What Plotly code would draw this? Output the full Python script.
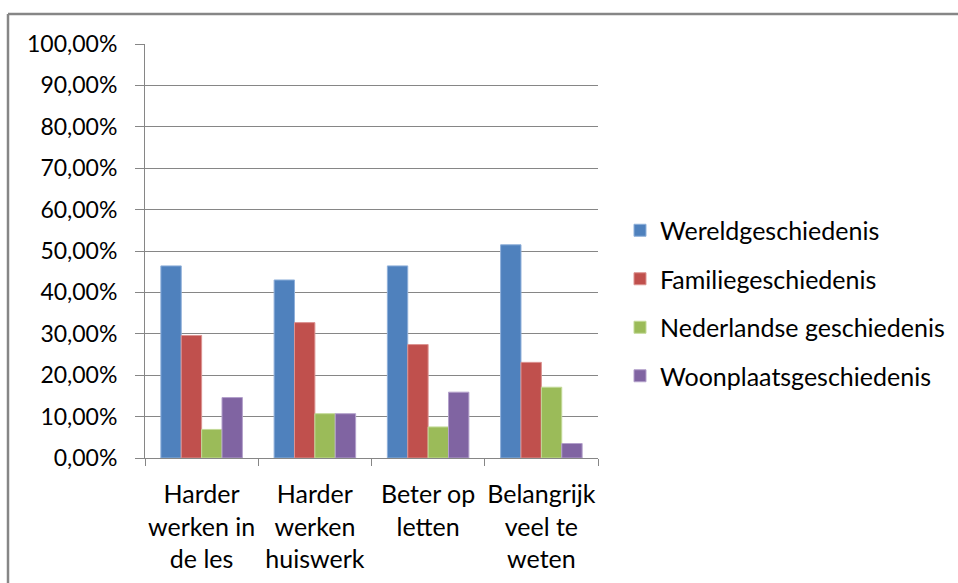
import plotly.graph_objects as go

categories = ["Harder<br>werken in<br>de les", "Harder<br>werken<br>huiswerk", "Beter op<br>letten", "Belangrijk<br>veel te<br>weten"]
series_names = ["Wereldgeschiedenis", "Familiegeschiedenis", "Nederlandse geschiedenis", "Woonplaatsgeschiedenis"]
wereld = [0.464, 0.430, 0.464, 0.515]
familie = [0.296, 0.327, 0.274, 0.231]
nederland = [0.069, 0.107, 0.075, 0.171]
woonplaats = [0.146, 0.107, 0.159, 0.035]
y_ticks = [0, 0.1, 0.2, 0.3, 0.4, 0.5, 0.6, 0.7, 0.8, 0.9, 1.0]

colors = ["#4F81BD", "#C0504D", "#9BBB59", "#8064A2"]
outline = ["#8FB0DA", "#DC9391", "#C3DA98", "#B3A0CB"]
values = [wereld, familie, nederland, woonplaats]

fig = go.Figure()
for i, (name, vals) in enumerate(zip(series_names, values)):
    fig.add_trace(go.Bar(
        x=categories, y=vals, name=name,
        marker=dict(color=colors[i], line=dict(color=outline[i], width=1)),
        legendgroup=f"g{i}",
    ))

FONT = "Lato"
FS = 23
W, H = 958, 583
L, R, T, B = 145, 360, 44, 125
pw, ph = W - L - R, H - T - B

def px_x(x):
    return (x - L) / pw

def px_y(y):
    return (H - B - y) / ph

fig.update_layout(
    width=W, height=H,
    margin=dict(l=L, r=R, t=T, b=B, pad=0, autoexpand=False),
    paper_bgcolor="white", plot_bgcolor="white",
    separators=",.",
    barmode="group", bargap=0.28, bargroupgap=0,
    font=dict(family=FONT, size=FS, color="#000000"),
    showlegend=True,
    legend=dict(
        x=px_x(620), y=px_y(303), xanchor="left", yanchor="middle",
        font=dict(family=FONT, size=25, color="#000000"),
        tracegroupgap=13, itemwidth=30,
        bgcolor="rgba(0,0,0,0)",
    ),
    xaxis=dict(
        showline=True, linecolor="#868686", linewidth=1,
        ticks="outside", ticklen=7, tickcolor="#868686",
        tickson="boundaries", showgrid=False,
        tickangle=0, automargin=False,
        tickfont=dict(family=FONT, size=25, color="#000000"),
        ticklabelstandoff=14,
    ),
    yaxis=dict(
        range=[0, 1], tickvals=y_ticks, tickformat=".2%",
        showline=True, linecolor="#868686", linewidth=1,
        ticks="outside", ticklen=9, tickcolor="#868686",
        showgrid=True, gridcolor="#868686", gridwidth=1,
        zeroline=False, automargin=False,
        tickfont=dict(family=FONT, size=FS, color="#000000"),
        ticklabelstandoff=13,
    ),
    shapes=[
        dict(type="line", xref="paper", yref="paper",
             x0=px_x(8), x1=px_x(W + 5), y0=px_y(14), y1=px_y(14),
             line=dict(color="#868686", width=2.5)),
        dict(type="line", xref="paper", yref="paper",
             x0=px_x(8), x1=px_x(8), y0=px_y(14), y1=px_y(H + 5),
             line=dict(color="#868686", width=2.5)),
    ],
)

fig.write_html(
    "out.html",
    config={"displayModeBar": False},
    post_script="document.body.style.margin='0';document.body.style.overflow='hidden';",
)
